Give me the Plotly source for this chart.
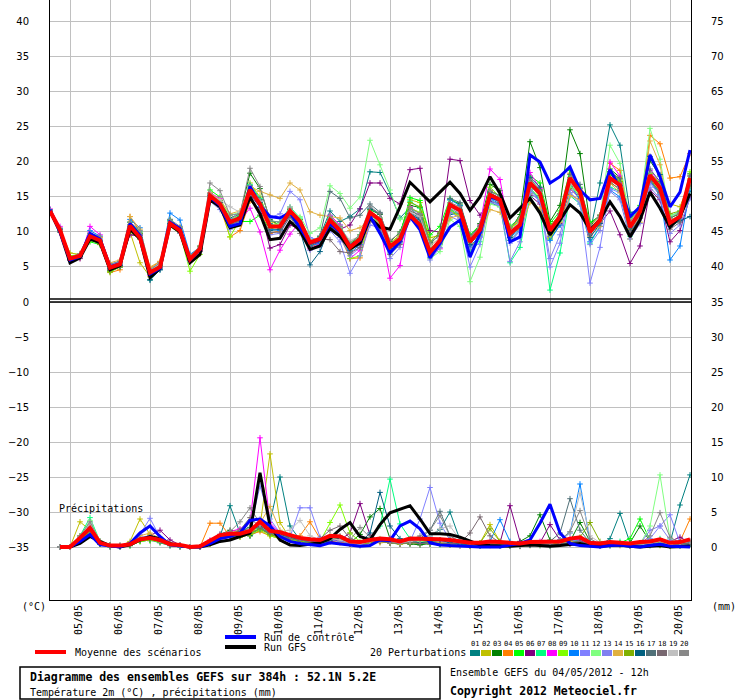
import plotly.graph_objects as go

# GEFS ensemble, 52.1N 5.2E, run of 04/05/2012 12h, 6-hourly steps up to 384h
HOURS = list(range(0, 385, 6))
PRECIP_HOURS = list(range(6, 385, 6))
DATE_HOURS = list(range(12, 384, 24))
DATES = ["05/05", "06/05", "07/05", "08/05", "09/05", "10/05", "11/05", "12/05",
         "13/05", "14/05", "15/05", "16/05", "17/05", "18/05", "19/05", "20/05"]

# 2m temperature (°C)
MEAN_T = [13.0, 10.3, 6.2, 6.6, 9.4, 8.8, 4.9, 5.4, 10.9, 9.2, 4.2, 5.0, 11.2,
          10.2, 6.1, 7.6, 15.2, 14.0, 11.4, 12.0, 16.0, 14.0, 10.8, 10.8, 13.0, 11.5,
          8.5, 9.0, 11.7, 10.2, 7.8, 9.0, 12.8, 11.7, 7.9, 9.0, 12.4, 11.0, 7.1,
          8.8, 13.9, 13.1, 8.6, 10.3, 15.3, 14.6, 9.8, 11.0, 17.0, 15.5, 10.2, 12.2,
          17.7, 15.7, 10.0, 11.7, 17.7, 16.7, 10.7, 12.9, 18.1, 16.3, 11.3, 12.2, 17.7]
CONTROL_T = [13.2, 10.0, 6.0, 6.5, 9.8, 9.0, 5.0, 5.5, 11.2, 9.5, 4.0, 4.8, 11.4,
             10.5, 6.0, 7.5, 15.0, 13.8, 10.8, 11.2, 16.5, 13.8, 12.2, 12.0, 12.8, 10.6,
             8.4, 8.9, 11.2, 10.0, 8.0, 8.8, 12.3, 9.8, 7.0, 8.6, 12.2, 10.3, 6.3,
             8.4, 10.7, 11.7, 6.4, 9.8, 15.0, 14.6, 8.6, 9.3, 21.0, 20.0, 17.0, 17.9,
             19.3, 16.0, 14.6, 14.8, 18.9, 16.3, 12.2, 13.6, 21.0, 17.9, 13.6, 15.7, 21.7]
GFS_T = [13.0, 10.0, 5.6, 6.3, 9.0, 8.5, 4.6, 5.2, 10.4, 9.0, 3.5, 4.8, 11.0,
         10.0, 5.6, 6.8, 14.6, 13.6, 10.6, 11.0, 15.0, 12.6, 8.9, 9.1, 11.5, 10.2,
         7.5, 8.0, 10.5, 9.4, 7.6, 8.4, 12.0, 10.7, 10.4, 13.6, 17.1, 15.7, 14.3,
         15.7, 17.1, 15.5, 13.1, 15.0, 17.9, 15.5, 12.0, 13.4, 14.8, 12.7, 9.6, 11.7,
         13.9, 12.7, 10.3, 11.7, 14.3, 12.2, 9.3, 11.7, 15.7, 13.4, 10.7, 12.2, 15.5]

P01_T = [13.1, 10.2, 6.0, 6.4, 9.1, 8.6, 4.5, 5.2, 10.6, 9.5, 3.1, 4.6, 11.6,
         10.6, 6.3, 7.8, 15.0, 13.8, 11.0, 12.2, 16.4, 14.6, 11.2, 10.4, 12.6, 11.0,
         8.0, 9.4, 13.0, 11.5, 12.2, 13.3, 18.6, 18.5, 15.5, 12.0, 13.5, 12.0, 8.5,
         9.5, 12.5, 12.8, 7.8, 9.6, 14.2, 13.6, 8.8, 10.2, 16.0, 14.8, 9.0, 11.0,
         16.5, 15.2, 9.8, 17.0, 25.3, 22.4, 12.8, 13.0, 17.2, 15.8, 10.8, 11.6, 15.8]
P02_T = [12.9, 10.4, 7.0, 6.8, 9.0, 8.4, 5.2, 5.6, 10.0, 5.6, 3.6, 4.9, 11.0,
         10.0, 6.4, 7.9, 15.4, 14.3, 11.8, 12.5, 17.0, 15.0, 11.5, 11.0, 13.4, 11.8,
         8.2, 8.6, 11.0, 9.6, 7.2, 8.5, 12.0, 11.4, 8.4, 9.6, 14.6, 14.2, 9.2,
         9.5, 13.0, 12.4, 7.5, 9.8, 15.8, 15.2, 10.5, 11.6, 15.5, 14.6, 9.2, 11.4,
         16.8, 15.0, 10.8, 12.4, 17.0, 16.2, 9.0, 11.4, 17.6, 15.0, 14.0, 13.6, 17.4]
P03_T = [13.0, 10.1, 6.3, 6.5, 9.0, 8.7, 4.6, 5.1, 11.4, 9.8, 4.5, 5.0, 11.8,
         10.4, 6.0, 7.4, 15.5, 14.5, 12.0, 12.6, 18.4, 16.2, 11.8, 10.9, 13.2, 11.8,
         8.8, 9.0, 12.2, 10.6, 8.2, 9.4, 13.2, 12.5, 8.6, 10.0, 13.8, 13.5, 8.2,
         9.8, 14.6, 14.0, 9.0, 11.2, 16.8, 15.9, 10.2, 12.5, 22.9, 19.2, 11.5, 13.8,
         24.6, 21.2, 11.2, 12.4, 19.0, 17.8, 11.8, 13.4, 20.2, 18.0, 12.0, 12.6, 18.3]
P04_T = [13.0, 10.2, 6.1, 6.3, 9.6, 9.2, 4.2, 4.6, 12.2, 10.0, 4.8, 5.8, 11.0,
         10.0, 5.8, 7.3, 15.0, 13.6, 9.3, 10.2, 14.4, 13.2, 9.8, 10.2, 12.6, 10.6,
         7.9, 8.3, 11.0, 9.5, 6.2, 6.3, 11.6, 10.8, 7.6, 8.6, 12.0, 10.6, 6.6,
         8.4, 13.4, 12.0, 9.4, 10.5, 15.9, 15.2, 10.4, 11.8, 17.4, 15.8, 10.8, 12.5,
         18.4, 16.0, 9.7, 11.5, 19.8, 18.8, 11.6, 12.6, 23.8, 22.6, 17.7, 17.9, 21.2]
P05_T = [12.8, 10.0, 6.4, 6.9, 8.6, 8.2, 4.3, 5.0, 10.4, 9.4, 4.0, 4.8, 11.0,
         10.2, 6.5, 8.0, 16.0, 15.0, 11.5, 11.5, 11.5, 12.4, 10.4, 10.9, 12.8, 11.4,
         8.6, 9.3, 12.0, 10.8, 8.4, 9.6, 13.0, 12.0, 8.0, 9.6, 14.9, 14.5, 9.6,
         10.8, 14.8, 13.8, 9.6, 11.0, 15.8, 15.2, 10.8, 12.0, 18.0, 17.0, 11.2, 13.0,
         18.8, 16.4, 11.4, 12.2, 18.2, 17.2, 12.0, 13.8, 17.6, 15.6, 11.5, 12.0, 16.6]
P06_T = [13.0, 10.3, 6.2, 6.6, 9.3, 8.9, 5.1, 5.6, 9.6, 9.4, 4.3, 4.9, 11.1,
         10.1, 6.2, 7.8, 15.3, 14.2, 11.3, 12.0, 15.4, 13.5, 7.7, 8.2, 11.0, 10.4,
         8.0, 8.6, 11.8, 10.4, 11.0, 13.3, 17.0, 17.0, 14.8, 14.0, 18.9, 19.1, 10.2,
         10.0, 20.4, 20.2, 14.5, 12.4, 14.4, 14.0, 9.8, 11.4, 15.2, 14.0, 9.4, 11.2,
         16.2, 14.8, 10.6, 11.2, 13.0, 9.6, 5.5, 8.0, 16.0, 14.6, 8.6, 10.2, 15.0]
P07_T = [13.1, 10.4, 6.3, 6.7, 9.8, 9.0, 4.8, 5.3, 11.4, 10.0, 4.3, 5.2, 11.6,
         10.6, 6.4, 7.8, 15.5, 14.0, 11.6, 12.4, 16.8, 14.8, 11.6, 11.4, 13.6, 12.0,
         8.9, 9.2, 12.4, 11.0, 8.1, 9.2, 12.6, 11.0, 7.0, 8.4, 14.4, 13.4, 7.8,
         8.2, 13.2, 12.4, 7.2, 8.6, 14.6, 13.8, 5.6, 7.8, 15.0, 13.0, 1.7, 7.0,
         15.2, 14.0, 8.4, 10.8, 16.4, 15.8, 9.4, 12.4, 18.4, 16.8, 12.2, 13.0, 17.0]
P08_T = [13.3, 10.8, 6.0, 6.2, 10.8, 9.6, 4.6, 5.2, 11.0, 9.6, 3.8, 4.9, 11.0,
         10.0, 6.0, 7.4, 15.6, 14.8, 10.8, 11.6, 13.4, 10.0, 4.6, 7.4, 9.7, 11.4,
         7.6, 8.3, 12.4, 11.0, 6.2, 7.4, 12.0, 10.8, 3.4, 5.2, 13.6, 12.6, 6.8,
         7.6, 13.6, 13.0, 8.2, 11.0, 19.0, 17.5, 9.6, 10.8, 18.5, 16.2, 10.2, 12.4,
         17.4, 15.4, 9.6, 12.0, 20.0, 18.0, 10.5, 12.0, 18.8, 17.0, 11.8, 12.0, 18.0]
P09_T = [12.9, 10.1, 6.6, 6.8, 8.8, 8.4, 4.4, 5.0, 10.2, 9.0, 4.5, 5.3, 10.8,
         9.8, 4.4, 6.8, 14.8, 14.2, 9.3, 11.8, 16.2, 14.0, 11.0, 11.2, 13.0, 11.2,
         8.4, 9.0, 11.4, 10.4, 6.2, 6.6, 12.4, 12.0, 8.2, 9.2, 13.4, 12.8, 7.6,
         8.6, 12.8, 12.2, 8.8, 10.6, 16.4, 15.0, 10.6, 11.5, 16.2, 15.0, 9.0, 11.6,
         16.4, 15.6, 10.4, 12.0, 18.6, 17.4, 11.2, 12.8, 18.4, 17.0, 11.0, 12.4, 18.6]
P10_T = [13.2, 10.5, 6.4, 6.8, 10.2, 9.4, 5.4, 5.8, 11.8, 10.6, 4.6, 5.6, 12.7,
         11.7, 6.8, 7.8, 15.0, 13.6, 11.0, 11.6, 15.6, 13.6, 10.4, 10.2, 12.6, 11.2,
         8.0, 8.4, 11.4, 9.6, 7.0, 8.2, 12.2, 11.0, 7.6, 9.2, 12.6, 11.6, 6.4,
         8.2, 14.6, 13.8, 8.0, 9.4, 14.8, 14.0, 9.2, 10.4, 16.4, 14.4, 8.8, 11.0,
         16.8, 14.6, 8.6, 10.8, 16.0, 15.0, 10.2, 12.0, 17.2, 15.4, 6.0, 8.0, 16.2]
P11_T = [13.0, 10.4, 6.4, 6.8, 9.6, 9.0, 5.2, 5.6, 10.8, 9.2, 4.0, 4.7, 11.0,
         10.0, 6.2, 7.6, 14.6, 13.8, 11.8, 12.8, 16.6, 14.4, 12.0, 12.6, 15.8, 14.6,
         9.2, 8.8, 10.2, 8.6, 4.1, 6.6, 11.0, 10.6, 7.2, 8.6, 12.8, 12.0, 6.4,
         8.6, 12.2, 11.6, 5.0, 8.2, 14.2, 13.8, 8.4, 10.2, 15.6, 14.4, 5.0, 8.4,
         15.6, 14.0, 2.7, 7.8, 16.2, 15.6, 9.8, 12.4, 17.0, 15.2, 10.8, 11.8, 17.2]
P12_T = [12.8, 10.2, 6.2, 6.6, 9.2, 8.8, 4.8, 5.4, 10.8, 9.2, 4.4, 5.2, 11.4,
         10.2, 6.0, 7.6, 15.0, 14.4, 12.4, 12.8, 16.2, 14.2, 11.0, 11.2, 12.8, 12.2,
         9.8, 10.6, 16.6, 15.5, 13.4, 15.0, 23.1, 19.6, 16.0, 11.8, 12.8, 11.2, 6.2,
         7.2, 11.8, 10.8, 2.9, 6.4, 14.0, 13.6, 9.4, 10.6, 16.2, 14.8, 9.6, 11.6,
         16.6, 15.2, 10.2, 12.2, 22.4, 19.8, 11.6, 13.6, 24.8, 20.4, 12.4, 12.8, 16.4]
P13_T = [13.1, 10.0, 6.0, 6.4, 9.4, 8.8, 5.0, 5.4, 10.6, 9.0, 4.3, 5.0, 11.0,
         9.8, 5.8, 7.2, 14.4, 13.2, 10.4, 11.2, 14.8, 12.8, 9.6, 9.8, 12.2, 10.6,
         7.4, 8.0, 10.6, 9.2, 6.6, 7.8, 11.6, 10.6, 6.2, 7.8, 11.8, 10.8, 6.0,
         7.8, 12.8, 12.0, 7.6, 9.2, 14.6, 13.8, 5.8, 8.6, 16.0, 14.4, 6.2, 9.6,
         15.6, 14.4, 8.2, 10.2, 15.8, 14.6, 9.0, 11.2, 16.4, 14.8, 9.8, 11.0, 14.8]
P14_T = [13.0, 10.3, 6.3, 6.9, 9.8, 9.2, 5.6, 6.0, 12.2, 10.4, 5.0, 5.8, 11.4,
         10.6, 6.6, 7.8, 15.6, 14.6, 12.6, 13.0, 16.5, 15.8, 15.3, 14.8, 17.0, 16.0,
         12.9, 12.4, 12.2, 12.0, 10.2, 10.6, 12.0, 11.2, 8.2, 9.4, 12.2, 11.4, 8.0,
         9.2, 12.0, 12.4, 8.4, 9.6, 13.2, 12.8, 9.8, 10.4, 14.2, 13.4, 9.6, 11.4,
         15.2, 14.6, 9.4, 10.8, 17.0, 15.6, 10.4, 12.0, 23.0, 19.6, 11.8, 12.2, 17.6]
P15_T = [12.9, 10.2, 6.5, 6.7, 9.0, 8.2, 4.4, 5.0, 10.0, 9.0, 4.0, 5.2, 11.0,
         10.0, 6.2, 7.6, 14.8, 13.8, 11.0, 12.0, 15.8, 14.0, 10.6, 10.6, 13.0, 11.2,
         8.2, 8.8, 11.6, 10.2, 7.8, 8.8, 12.6, 11.8, 8.0, 9.0, 14.2, 13.6, 8.6,
         10.0, 14.0, 13.2, 8.8, 10.4, 15.0, 14.2, 10.0, 11.0, 17.2, 16.0, 10.8, 12.6,
         17.8, 15.8, 10.4, 11.6, 18.6, 17.2, 10.4, 12.4, 17.8, 16.8, 12.6, 13.0, 16.8]
P16_T = [13.1, 10.3, 6.1, 6.5, 9.4, 8.6, 4.8, 5.2, 11.0, 9.2, 3.2, 4.6, 11.2,
         10.4, 6.0, 7.6, 15.2, 14.2, 11.2, 11.8, 15.8, 14.2, 10.2, 10.4, 12.4, 10.2,
         5.3, 7.2, 10.8, 9.6, 7.4, 8.6, 13.4, 12.6, 7.6, 8.6, 12.6, 11.8, 7.0,
         8.6, 13.6, 12.8, 8.2, 10.0, 15.6, 14.8, 9.2, 10.8, 17.8, 16.4, 9.8, 12.4,
         17.4, 16.2, 9.2, 11.2, 17.6, 16.6, 10.2, 12.8, 20.8, 18.2, 11.0, 11.6, 12.2]
P17_T = [13.0, 10.4, 6.4, 6.6, 9.6, 8.8, 5.0, 5.4, 11.0, 9.6, 4.4, 5.1, 11.4,
         10.4, 6.2, 7.8, 15.4, 14.2, 11.6, 12.2, 16.6, 14.6, 11.0, 10.8, 12.4, 10.8,
         8.0, 9.4, 15.8, 14.8, 12.0, 12.4, 14.0, 12.8, 8.0, 9.2, 12.8, 12.0, 7.4,
         9.0, 14.8, 14.2, 9.4, 10.8, 15.8, 15.2, 10.2, 11.4, 17.6, 16.0, 10.4, 12.6,
         18.2, 16.8, 10.4, 12.0, 18.6, 17.6, 10.8, 12.8, 19.0, 17.2, 11.4, 12.6, 18.0]
P18_T = [12.8, 10.0, 6.0, 6.2, 9.0, 8.4, 4.6, 5.0, 10.8, 9.4, 4.4, 5.0, 11.0,
         10.0, 6.0, 7.2, 14.8, 13.6, 11.0, 11.6, 15.0, 12.4, 9.9, 10.0, 12.2, 9.8,
         8.6, 9.0, 8.9, 7.2, 7.0, 7.8, 11.6, 10.4, 6.8, 8.2, 13.0, 12.4, 7.4,
         8.4, 13.4, 12.6, 8.6, 10.2, 15.0, 14.2, 9.4, 10.6, 16.6, 15.2, 9.8, 11.8,
         17.0, 15.4, 9.6, 11.4, 17.2, 16.0, 10.0, 12.0, 17.4, 15.6, 10.4, 11.4, 16.6]
P19_T = [13.0, 10.2, 6.2, 6.8, 9.6, 9.0, 5.0, 5.6, 11.0, 9.4, 4.6, 5.4, 11.4,
         10.4, 6.4, 7.8, 15.4, 14.6, 13.6, 12.8, 16.4, 14.4, 10.8, 11.0, 13.6, 11.4,
         8.8, 9.2, 11.6, 10.6, 8.8, 9.4, 12.8, 12.0, 8.2, 9.2, 12.8, 12.2, 8.0,
         9.2, 13.4, 12.8, 9.0, 10.6, 15.4, 14.6, 10.2, 11.4, 16.8, 15.6, 10.4, 12.4,
         17.0, 15.8, 10.6, 12.2, 17.4, 16.4, 11.4, 13.0, 18.0, 16.4, 11.6, 12.4, 17.2]
P20_T = [13.2, 10.6, 6.4, 6.9, 9.8, 9.4, 5.4, 5.8, 11.4, 10.2, 4.6, 5.6, 11.8,
         10.8, 6.6, 8.0, 17.0, 15.9, 12.4, 12.6, 19.1, 16.5, 11.6, 11.4, 13.4, 11.2,
         8.4, 9.2, 12.2, 10.8, 8.4, 9.6, 13.6, 12.6, 8.8, 9.8, 13.4, 12.6, 8.4,
         9.6, 14.2, 13.6, 9.2, 10.8, 16.0, 15.0, 10.6, 12.0, 17.2, 15.8, 10.6, 12.6,
         17.8, 16.2, 11.0, 12.4, 17.6, 16.8, 11.6, 13.2, 18.2, 16.6, 12.0, 12.8, 17.4]

# 6-hourly precipitation (mm), first value at +6h
MEAN_P = [0, 0, 1.3, 2.7, 0.6, 0.2, 0.2, 0.4, 1.1, 1.3, 1.0, 0.4, 0.3, 0.0, 0.1, 0.9,
          1.7, 1.9, 1.9, 2.3, 3.6, 2.3, 2.1, 1.7, 1.3, 1.1, 1.0, 1.6, 1.5, 0.8, 0.7, 1.0,
          1.2, 1.1, 0.8, 1.2, 1.2, 1.2, 1.1, 1.0, 0.8, 0.6, 0.6, 0.8, 0.7, 0.6, 0.5, 0.7,
          0.7, 0.7, 0.8, 1.2, 1.4, 0.6, 0.5, 0.7, 0.6, 0.5, 0.7, 0.8, 1.1, 0.6, 0.7, 1.1]
CONTROL_P = [0, 0, 0.8, 1.8, 0.3, 0.1, 0, 0.5, 2.0, 3.0, 1.5, 0.3, 0.1, 0, 0, 0.5,
             1.2, 1.5, 2.0, 3.8, 4.0, 3.0, 1.5, 0.8, 0.5, 0.4, 0.2, 0.6, 0.4, 0.2, 0.1, 0.2,
             1.0, 0.9, 3.0, 3.7, 2.6, 0.6, 0.3, 0.2, 0.1, 0.1, 0, 0, 0, 0.3, 0.5, 1.0,
             3.4, 6.1, 2.0, 0.5, 0.2, 0.1, 0, 0.2, 0.3, 0.1, 0, 0.2, 0.4, 0.1, 0, 0]
GFS_P = [0, 0, 0.5, 1.5, 0.8, 0.2, 0, 0.3, 1.0, 1.5, 1.2, 0.5, 0.2, 0, 0, 0.3,
         0.8, 1.0, 1.5, 2.0, 10.6, 3.0, 1.0, 0.3, 0.2, 0.4, 0.6, 1.2, 2.5, 3.5, 1.5, 1.0,
         3.2, 4.9, 5.4, 5.9, 4.0, 1.9, 1.9, 1.8, 1.4, 0.9, 0.3, 0.2, 0.1, 0.1, 0.2, 0.3,
         0.2, 0.1, 0.2, 0.4, 0.5, 0.2, 0.1, 0.2, 0.3, 0.1, 0, 0.1, 0.2, 0, 0, 0.1]

P01_P = [0, 0, 1.2, 3.0, 0.4, 0, 0, 0.2, 0.8, 1.0, 0.6, 0.2, 0, 0, 0, 0.6,
         1.5, 5.9, 2.0, 1.6, 2.4, 3.5, 10.0, 3.0, 1.0, 0.6, 0.4, 0.8, 1.0, 0.4, 0.2, 0.8,
         1.0, 0.6, 0.4, 0.8, 1.2, 1.6, 2.5, 5.0, 1.0, 0.4, 0.2, 0.3, 0.2, 0.1, 0.1, 0.3,
         0.2, 0.1, 0.4, 0.8, 1.0, 0.3, 0.2, 1.2, 4.8, 0.6, 0.3, 0.2, 0.4, 0.6, 6.0, 10.3]
P02_P = [0, 0, 3.6, 2.4, 0.5, 0.2, 0.1, 0.8, 4.0, 1.8, 0.8, 0.3, 0.1, 0, 0, 0.4,
         1.2, 1.4, 1.8, 2.0, 3.0, 13.3, 3.5, 1.2, 0.8, 0.6, 0.5, 1.0, 0.8, 0.4, 0.3, 0.6,
         0.8, 0.6, 0.4, 0.6, 0.8, 1.0, 0.6, 0.4, 0.3, 0.2, 0.6, 3.2, 0.8, 0.2, 0.1, 0.2,
         0.3, 0.2, 0.5, 0.8, 0.6, 0.4, 0.2, 0.3, 0.2, 0.1, 0.4, 0.3, 0.2, 0.1, 0.2, 0.4]
P03_P = [0, 0, 1.0, 2.2, 0.8, 0.3, 0.2, 0.4, 1.2, 0.9, 1.2, 0.5, 0.2, 0, 0, 0.8,
         1.8, 2.4, 2.2, 1.6, 2.8, 1.8, 1.4, 1.0, 0.8, 0.6, 0.8, 1.4, 1.2, 0.6, 1.8, 4.3,
         5.5, 1.2, 0.6, 0.4, 0.3, 0.5, 0.4, 0.3, 0.2, 0.1, 0.2, 0.3, 0.2, 0.4, 0.8, 1.6,
         4.6, 1.0, 0.4, 0.8, 3.5, 0.8, 0.3, 0.2, 0.4, 0.6, 3.0, 0.8, 0.3, 0.2, 0.4, 0.6]
P04_P = [0, 0, 1.4, 2.5, 0.6, 0.2, 0.2, 0.3, 1.0, 1.2, 0.9, 0.4, 0.2, 0, 0, 3.4,
         3.4, 1.6, 1.4, 1.8, 2.2, 1.6, 1.2, 1.0, 1.6, 3.6, 1.2, 0.8, 0.6, 0.4, 0.3, 0.5,
         0.8, 0.6, 0.5, 0.8, 0.6, 0.8, 1.0, 0.6, 0.4, 0.3, 0.2, 0.2, 0.3, 0.2, 0.2, 0.3,
         0.4, 0.3, 0.4, 0.8, 1.2, 0.4, 0.3, 0.4, 0.5, 0.3, 0.4, 0.6, 0.8, 0.5, 0.8, 4.0]
P05_P = [0, 0, 1.0, 2.0, 0.4, 0.1, 0.1, 0.2, 0.8, 1.0, 0.8, 0.3, 0.1, 0, 0, 0.5,
         1.4, 1.6, 2.2, 2.8, 3.2, 2.0, 1.6, 1.4, 1.0, 0.8, 0.6, 1.2, 1.0, 0.6, 0.4, 0.8,
         1.0, 0.8, 0.6, 0.8, 0.6, 0.8, 0.6, 0.5, 0.4, 0.3, 0.3, 0.4, 0.3, 0.2, 0.2, 0.3,
         0.4, 0.3, 0.5, 0.6, 0.8, 0.4, 0.2, 0.4, 0.6, 1.2, 4.0, 1.0, 0.4, 0.2, 0.3, 0.5]
P06_P = [0, 0, 0.9, 1.8, 0.6, 0.1, 0.1, 0.3, 1.2, 1.6, 2.4, 1.0, 0.3, 0, 0, 0.6,
         1.2, 1.4, 1.6, 2.0, 2.6, 1.8, 1.4, 1.2, 1.0, 0.8, 0.6, 0.8, 1.0, 2.0, 6.2, 1.7,
         0.8, 0.6, 0.5, 0.6, 0.8, 0.6, 0.4, 0.3, 0.2, 0.2, 0.3, 0.4, 0.6, 5.9, 0.8, 0.4,
         0.6, 3.2, 1.0, 0.4, 0.6, 0.3, 0.2, 0.3, 0.4, 0.2, 0.3, 0.4, 0.6, 0.8, 1.4, 0.6]
P07_P = [0, 0, 1.6, 4.2, 0.8, 0.2, 0.1, 0.4, 1.2, 1.0, 0.8, 0.3, 0.1, 0, 0, 0.8,
         1.6, 2.0, 1.8, 2.4, 2.8, 2.0, 1.6, 1.2, 0.8, 0.6, 0.4, 1.0, 1.4, 0.8, 0.6, 1.2,
         3.0, 9.7, 3.3, 1.2, 0.6, 0.4, 0.3, 0.4, 0.3, 0.2, 0.2, 0.3, 0.4, 0.3, 0.2, 0.4,
         0.5, 0.4, 0.6, 1.0, 0.8, 0.3, 0.2, 0.6, 0.8, 0.4, 0.6, 0.8, 1.2, 0.4, 0.3, 0.6]
P08_P = [0, 0, 1.4, 3.2, 0.6, 0.2, 0.1, 0.4, 1.0, 1.2, 1.0, 0.4, 0.2, 0, 0, 1.0,
         1.8, 2.2, 2.6, 3.5, 15.6, 3.5, 2.0, 1.6, 1.0, 0.8, 0.8, 1.2, 1.0, 0.6, 0.4, 0.8,
         1.0, 1.2, 0.8, 1.0, 0.8, 0.6, 0.5, 0.4, 0.3, 0.2, 0.4, 0.6, 0.4, 0.3, 0.2, 0.6,
         0.8, 0.6, 0.8, 1.2, 1.0, 0.4, 0.3, 0.4, 0.3, 0.2, 0.4, 0.6, 0.8, 0.4, 0.6, 0.8]
P09_P = [0, 0, 1.0, 2.4, 0.5, 0.1, 0.1, 0.2, 0.8, 1.0, 0.7, 0.2, 0.1, 0, 0, 0.6,
         1.4, 1.6, 1.4, 1.8, 2.4, 1.6, 1.2, 1.0, 0.8, 0.6, 0.8, 3.5, 6.0, 2.0, 0.8, 0.6,
         0.8, 0.6, 0.5, 0.6, 0.5, 0.4, 0.4, 0.6, 0.4, 0.3, 0.2, 0.4, 0.3, 0.2, 0.2, 0.3,
         0.4, 0.3, 0.5, 0.8, 0.6, 0.3, 0.2, 0.3, 0.4, 0.3, 0.4, 0.5, 0.6, 0.3, 0.2, 0.4]
P10_P = [0, 0, 1.2, 2.6, 0.4, 0.1, 0.1, 0.3, 1.2, 1.4, 0.8, 0.2, 0.1, 0, 0, 0.6,
         1.2, 1.4, 1.6, 2.0, 2.6, 2.0, 1.6, 1.4, 1.0, 0.8, 0.6, 1.0, 1.2, 0.6, 0.4, 0.8,
         1.0, 0.8, 0.6, 0.8, 0.6, 0.8, 0.6, 0.5, 0.4, 0.3, 0.4, 0.8, 3.9, 0.8, 0.4, 0.3,
         0.4, 0.6, 1.0, 2.0, 9.0, 0.8, 0.3, 0.2, 0.4, 0.3, 0.2, 0.4, 0.6, 0.3, 0.2, 0.4]
P11_P = [0, 0, 1.0, 2.2, 0.6, 0.2, 0.2, 0.6, 1.8, 4.1, 1.4, 0.4, 0.1, 0, 0, 0.8,
         1.4, 1.6, 2.0, 2.6, 8.7, 4.0, 2.0, 1.4, 5.6, 5.6, 1.4, 1.0, 0.8, 0.6, 0.4, 0.6,
         0.8, 0.6, 0.5, 0.8, 4.0, 8.5, 3.4, 1.0, 0.6, 0.4, 0.3, 0.4, 0.3, 0.2, 0.2, 0.3,
         0.4, 0.3, 0.4, 0.8, 0.6, 0.4, 0.2, 0.3, 0.4, 0.3, 0.6, 1.2, 3.0, 4.6, 0.6, 0.4]
P12_P = [0, 0, 1.4, 3.8, 0.8, 0.2, 0.1, 0.3, 1.0, 1.2, 0.8, 0.3, 0.1, 0, 0, 0.6,
         1.4, 1.8, 2.0, 2.4, 3.0, 2.2, 1.6, 1.2, 0.8, 0.6, 0.8, 1.6, 1.4, 0.8, 0.6, 1.0,
         1.2, 1.0, 0.8, 1.0, 0.8, 0.6, 0.4, 0.3, 0.3, 0.2, 0.2, 0.3, 0.4, 0.3, 0.2, 0.4,
         0.6, 0.4, 0.6, 0.8, 0.6, 0.4, 0.3, 0.4, 0.3, 0.2, 0.4, 3.0, 10.3, 1.2, 0.4, 0.6]
P13_P = [0, 0, 1.2, 2.8, 0.6, 0.2, 0.1, 0.4, 1.4, 1.6, 1.2, 0.4, 0.2, 0, 0, 0.8,
         1.6, 1.8, 2.0, 2.2, 4.0, 2.4, 1.8, 1.4, 1.2, 0.8, 0.6, 1.4, 1.2, 0.6, 0.4, 0.6,
         0.8, 1.0, 0.6, 0.8, 1.0, 1.4, 0.8, 0.6, 0.4, 0.3, 0.3, 0.4, 0.3, 0.2, 0.2, 0.3,
         0.4, 0.4, 0.6, 1.0, 0.8, 0.4, 0.2, 0.3, 0.4, 0.3, 0.4, 2.4, 3.0, 1.0, 0.4, 0.6]
P14_P = [0, 0, 1.6, 3.0, 0.8, 0.3, 0.2, 0.6, 1.6, 2.0, 1.2, 0.5, 0.2, 0, 0, 0.8,
         1.6, 2.0, 2.4, 2.6, 3.4, 5.8, 2.4, 1.8, 1.2, 1.0, 0.8, 1.2, 1.4, 0.8, 0.6, 0.8,
         0.6, 0.8, 0.6, 0.8, 0.6, 0.8, 0.6, 0.4, 0.3, 0.2, 0.3, 0.4, 0.6, 0.4, 0.3, 0.4,
         0.5, 0.4, 0.6, 0.8, 0.6, 0.4, 0.3, 0.4, 0.4, 0.3, 0.6, 0.8, 0.6, 0.4, 0.6, 0.8]
P15_P = [0, 0, 1.0, 2.2, 0.4, 0.1, 0.1, 0.3, 0.9, 1.1, 0.8, 0.3, 0.1, 0, 0, 0.5,
         1.2, 1.4, 1.6, 2.0, 2.6, 1.8, 1.4, 1.2, 0.8, 0.6, 0.6, 1.0, 1.2, 0.6, 0.4, 0.6,
         0.8, 0.6, 0.5, 0.6, 0.5, 0.6, 0.5, 0.4, 0.4, 0.3, 0.6, 2.6, 0.8, 0.3, 0.2, 0.4,
         0.5, 0.4, 0.6, 1.0, 1.4, 3.5, 0.8, 0.3, 0.4, 0.3, 0.4, 0.5, 0.6, 0.3, 0.4, 0.5]
P16_P = [0, 0, 1.2, 2.6, 0.6, 0.2, 0.1, 0.3, 1.0, 1.2, 0.9, 0.3, 0.1, 0, 0, 0.6,
         1.4, 1.8, 2.2, 2.4, 3.0, 2.2, 1.8, 1.4, 1.0, 0.8, 0.6, 1.0, 1.2, 0.8, 0.6, 2.0,
         7.8, 3.0, 1.2, 0.8, 0.6, 0.8, 1.0, 0.6, 0.4, 0.3, 0.2, 0.3, 0.2, 0.2, 0.2, 0.3,
         0.4, 0.3, 0.4, 0.6, 0.8, 0.4, 0.3, 0.3, 0.4, 0.2, 0.3, 0.4, 0.5, 0.3, 0.2, 0.4]
P17_P = [0, 0, 1.4, 2.8, 0.6, 0.2, 0.2, 0.4, 1.2, 1.4, 1.0, 0.4, 0.2, 0, 0, 0.8,
         1.6, 2.0, 2.2, 2.8, 3.4, 2.6, 2.0, 1.6, 1.2, 1.0, 0.8, 1.2, 1.0, 0.6, 0.4, 0.8,
         1.0, 0.8, 0.6, 0.8, 1.2, 2.4, 5.1, 1.6, 0.6, 0.4, 0.3, 0.4, 0.3, 0.2, 0.2, 0.4,
         0.6, 0.8, 2.0, 6.9, 2.4, 0.6, 0.3, 0.4, 0.3, 0.2, 0.4, 0.6, 0.4, 0.3, 0.4, 0.6]
P18_P = [0, 0, 1.2, 2.4, 0.6, 0.2, 0.1, 0.4, 1.0, 1.2, 0.8, 0.3, 0.1, 0, 0, 0.6,
         1.4, 1.6, 2.4, 4.2, 2.8, 2.0, 1.6, 1.2, 1.0, 0.8, 1.2, 2.4, 3.0, 1.2, 0.6, 0.8,
         0.8, 0.6, 0.5, 0.6, 0.5, 0.4, 0.4, 0.5, 0.6, 2.0, 4.3, 1.6, 0.6, 0.3, 0.2, 0.3,
         0.4, 0.3, 0.5, 0.6, 0.8, 0.4, 0.2, 0.3, 0.4, 0.3, 0.4, 0.6, 0.8, 0.4, 0.3, 0.5]
P19_P = [0, 0, 1.4, 3.4, 0.8, 0.2, 0.2, 0.4, 1.2, 1.4, 1.0, 0.4, 0.2, 0, 0, 0.8,
         1.6, 1.8, 2.0, 2.6, 3.2, 2.4, 2.2, 2.4, 3.8, 1.6, 1.0, 1.2, 1.0, 0.6, 0.4, 0.8,
         1.0, 0.8, 0.6, 0.8, 1.0, 1.6, 2.6, 3.0, 1.0, 0.6, 0.4, 0.3, 0.3, 0.2, 0.2, 0.4,
         0.6, 0.5, 0.8, 2.0, 7.7, 1.6, 0.6, 0.4, 0.3, 0.2, 0.3, 0.6, 0.8, 0.4, 0.6, 0.8]
P20_P = [0, 0, 1.6, 3.6, 0.8, 0.2, 0.2, 0.4, 1.2, 1.4, 1.0, 0.4, 0.2, 0, 0, 0.8,
         1.8, 2.2, 3.6, 5.6, 3.4, 2.4, 2.0, 1.6, 1.2, 1.0, 0.8, 1.2, 1.6, 1.0, 2.8, 1.4,
         1.0, 0.8, 0.8, 1.0, 1.6, 2.4, 4.5, 1.6, 0.8, 0.5, 0.4, 0.4, 0.3, 0.3, 0.2, 0.4,
         0.6, 0.6, 1.0, 2.2, 5.2, 1.2, 0.4, 0.4, 0.3, 0.2, 0.4, 1.6, 4.9, 1.4, 0.6, 0.8]

PERT_COLORS = ["#008080", "#c0c000", "#008000", "#ff8000", "#00ff00",
               "#800080", "#00ff80", "#ff00ff", "#80ff00", "#0080ff",
               "#8080ff", "#80ff80", "#8080f0", "#e0b040", "#80b000",
               "#006080", "#507078", "#786870", "#c0c0c0", "#888888"]
PERT_LABELS = ["01", "02", "03", "04", "05", "06", "07", "08", "09", "10",
               "11", "12", "13", "14", "15", "16", "17", "18", "19", "20"]

PERT_T = [P01_T, P02_T, P03_T, P04_T, P05_T, P06_T, P07_T, P08_T, P09_T, P10_T,
          P11_T, P12_T, P13_T, P14_T, P15_T, P16_T, P17_T, P18_T, P19_T, P20_T]
PERT_P = [P01_P, P02_P, P03_P, P04_P, P05_P, P06_P, P07_P, P08_P, P09_P, P10_P,
          P11_P, P12_P, P13_P, P14_P, P15_P, P16_P, P17_P, P18_P, P19_P, P20_P]

W, H = 740, 700
L, R, B = 50, 691, 600
MONO = "DejaVu Sans Mono"


def px(x):
    return (x - L) / (R - L)


def py(y):
    return (B - y) / B


fig = go.Figure()

# perturbations first, so the control, GFS and mean runs sit on top
for temps, precs, col in zip(PERT_T, PERT_P, PERT_COLORS):
    mk = dict(symbol="cross-thin", size=4, line=dict(width=1, color=col))
    fig.add_trace(go.Scatter(x=HOURS, y=temps, mode="lines+markers",
                             line=dict(color=col, width=1), marker=mk))
    fig.add_trace(go.Scatter(x=PRECIP_HOURS, y=precs, yaxis="y2", mode="lines+markers",
                             line=dict(color=col, width=1), marker=mk))

for temps, precs, col, wd in [(GFS_T, GFS_P, "#000000", 3),
                              (CONTROL_T, CONTROL_P, "#0000ff", 3),
                              (MEAN_T, MEAN_P, "#ff0000", 4)]:
    fig.add_trace(go.Scatter(x=HOURS, y=temps, mode="lines", line=dict(color=col, width=wd)))
    fig.add_trace(go.Scatter(x=PRECIP_HOURS, y=precs, yaxis="y2", mode="lines",
                             line=dict(color=col, width=wd)))

# temperature axis (left) and precipitation axis (right) share one scale, offset by 35
t_lo, t_hi = -42.57, 43.14
fig.update_layout(
    width=W, height=H,
    margin=dict(l=L, r=W - R, t=0, b=H - B),
    paper_bgcolor="white", plot_bgcolor="white",
    showlegend=False,
    xaxis=dict(range=[0, 384.6], tickvals=DATE_HOURS, ticktext=DATES,
               tickangle=-90, ticks="", showgrid=True, gridcolor="#c0c0c0", gridwidth=1,
               zeroline=False, showline=True, linecolor="black", linewidth=1,
               ticklabelstandoff=0, ticklabelshift=9,
               tickfont=dict(family=MONO, size=10, color="black")),
    yaxis=dict(range=[t_lo, t_hi], tickvals=list(range(-35, 41, 5)),
               ticks="", showgrid=True, gridcolor="#c0c0c0", gridwidth=1,
               zeroline=False, showline=True, linecolor="black", linewidth=1,
               ticklabelstandoff=18,
               tickfont=dict(family="DejaVu Sans", size=10, color="black")),
    yaxis2=dict(range=[t_lo + 35, t_hi + 35], tickvals=list(range(0, 76, 5)),
                overlaying="y", side="right", ticks="", showgrid=False,
                zeroline=False, showline=True, linecolor="black", linewidth=1,
                ticklabelstandoff=17,
                tickfont=dict(family="DejaVu Sans", size=10, color="black")),
)

shapes = [
    # double separator between temperature and precipitation panels
    dict(type="line", xref="paper", yref="y", x0=0, x1=1, y0=0, y1=0,
         line=dict(color="black", width=1.5)),
    dict(type="line", xref="paper", yref="y", x0=0, x1=1, y0=0.43, y1=0.43,
         line=dict(color="black", width=1.5)),
    # legend lines
    dict(type="line", xref="paper", yref="paper", x0=px(35), x1=px(66), y0=py(652), y1=py(652),
         line=dict(color="#ff0000", width=4)),
    dict(type="line", xref="paper", yref="paper", x0=px(225), x1=px(256), y0=py(637), y1=py(637),
         line=dict(color="#0000ff", width=4)),
    dict(type="line", xref="paper", yref="paper", x0=px(225), x1=px(256), y0=py(647), y1=py(647),
         line=dict(color="#000000", width=4)),
    # title box
    dict(type="rect", xref="paper", yref="paper", x0=px(20), x1=px(440), y0=py(699), y1=py(667),
         line=dict(color="black", width=1.5)),
]
for k, col in enumerate(PERT_COLORS):
    shapes.append(dict(type="rect", xref="paper", yref="paper",
                       x0=px(470 + 11 * k), x1=px(480 + 11 * k), y0=py(656), y1=py(650),
                       fillcolor=col, line=dict(width=0)))
fig.update_layout(shapes=shapes)


def label(x, y, text, size=10, anchor="left"):
    fig.add_annotation(x=px(x), y=py(y), xref="paper", yref="paper", text=text,
                       showarrow=False, xanchor=anchor, yanchor="middle",
                       font=dict(family=MONO, size=size, color="black"))


label(20, 606, "(°C)")
label(710, 606, "(mm)")
label(57, 508, "Précipitations")
label(73, 652, "Moyenne des scénarios")
label(262, 637, "Run de contrôle")
label(262, 647, "Run GFS")
label(368, 652, "20 Perturbations")
for k, lab in enumerate(PERT_LABELS):
    label(475 + 11 * k, 644, lab, size=7, anchor="center")
label(28, 677, "<b>Diagramme des ensembles GEFS sur 384h : 52.1N 5.2E</b>", size=11.5)
label(28, 692, "Température 2m (°C) , précipitations (mm)")
label(448, 672, "Ensemble GEFS du 04/05/2012 - 12h")
label(448, 691, "<b>Copyright 2012 Meteociel.fr</b>", size=11.5)

# the page's default body margin would push the 740x700 figure off the window
fig.write_html("out.html", config={"displayModeBar": False},
               post_script="document.body.style.margin = '0';")
